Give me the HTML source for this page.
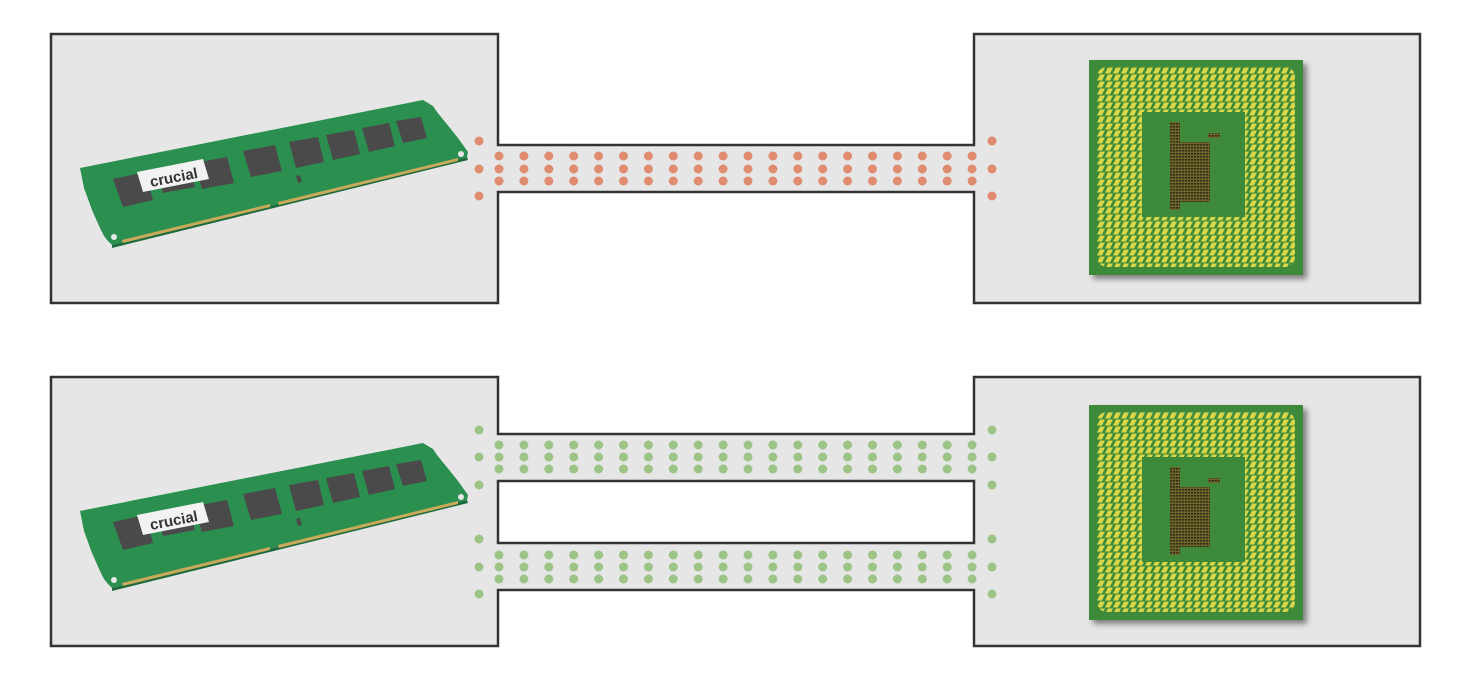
<!DOCTYPE html>
<html><head><meta charset="utf-8"><style>html,body{margin:0;padding:0;background:#fff}svg{display:block}</style></head>
<body>
<svg width="1471" height="681" viewBox="0 0 1471 681" xmlns="http://www.w3.org/2000/svg">
<defs>
<pattern id="pads" x="1097" y="67" width="8" height="7" patternUnits="userSpaceOnUse">
<rect width="8" height="7" fill="#3d8b3a"/>
<polygon points="0,6.5 3,0.5 8,0.5 5,6.5" fill="#d9d64a"/>
</pattern>
<pattern id="core" x="0" y="0" width="3" height="3" patternUnits="userSpaceOnUse">
<rect width="3" height="3" fill="#6a6a2a"/><rect width="2.2" height="1.6" fill="#3a2a1a"/>
</pattern>
<filter id="sh" x="-10%" y="-10%" width="130%" height="130%"><feGaussianBlur stdDeviation="3"/></filter>
<g id="ram">
<polygon points="80,168 423,100 433,106 437,112 450,128 458,138 468,152 467,157 112,245 108,241 104,236 100,228 96,219 92,210 88,199 84,188" fill="#2b8f50"/>
<polygon points="467,157 112,245 112,248 468,160" fill="#1d6a3c"/>
<polygon points="122,240 270,204 270,207 123,243" fill="#c9a95a"/>
<polygon points="278,202 458,158 458,161 279,205" fill="#c9a95a"/>
<circle cx="114" cy="237" r="3" fill="#e6e6e6"/><circle cx="461" cy="154" r="3" fill="#e6e6e6"/>
<g fill="#4a4a4a">
<polygon points="113,179 145,172 153,200 123,207"/>
<polygon points="157,171 189,165 195,187 163,193"/>
<polygon points="194,163 227,157 234,183 202,189"/>
<polygon points="243,151 275,145 282,171 251,177"/>
<polygon points="289,142 318,137 324,162 296,168"/>
<polygon points="326,135 354,130 360,154 333,160"/>
<polygon points="362,128 389,123 395,146 369,152"/>
<polygon points="396,121 421,117 427,138 403,143"/>
<polygon points="296,176 300,175 302,182 298,183"/>
</g>
<polygon points="137,172 203,159 209,179 143,192" fill="#f2f2f2"/>
<text x="0" y="0" transform="translate(151,187) rotate(-11)" font-family="Liberation Sans, sans-serif" font-weight="bold" font-size="15" fill="#333">crucial</text>
</g>
<g id="cpu">
<rect x="1093" y="64" width="214" height="215" fill="#555" filter="url(#sh)" opacity="0.7"/>
<rect x="1089" y="60" width="214" height="215" fill="#3d8b3a"/>
<rect x="1097" y="67" width="198" height="200" rx="10" fill="url(#pads)"/>
<rect x="1142" y="112" width="103" height="105" fill="#3d8b3a"/>
<rect x="1170" y="122" width="10" height="88" fill="url(#core)"/>
<rect x="1180" y="142" width="30" height="60" fill="url(#core)"/>
<rect x="1208" y="133" width="12" height="5" fill="url(#core)"/>
</g>
</defs>
<path d="M51,34 H498 V145 H974 V34 H1420 V303 H974 V192 H498 V303 H51 Z" fill="#e6e6e6" stroke="#333" stroke-width="2.5"/>
<path d="M51,377 H498 V434 H974 V377 H1420 V646 H974 V590 H498 V646 H51 Z M498,481 H974 V543 H498 Z" fill="#e6e6e6" fill-rule="evenodd" stroke="#333" stroke-width="2.5"/>
<use href="#ram"/>
<use href="#ram" transform="translate(0,343)"/>
<use href="#cpu"/>
<use href="#cpu" transform="translate(0,345)"/>
<g fill="#e08c70">
<circle cx="479" cy="141" r="4.5"/><circle cx="479" cy="169" r="4.5"/><circle cx="479" cy="196" r="4.5"/>
<circle cx="992" cy="141" r="4.5"/><circle cx="992" cy="169" r="4.5"/><circle cx="992" cy="196" r="4.5"/>
</g>
<g fill="#e08c70">
<g id="col"><circle cx="499" cy="156" r="4.5"/><circle cx="499" cy="169" r="4.5"/><circle cx="499" cy="181" r="4.5"/></g>
<use href="#col" x="24.9"/><use href="#col" x="49.8"/><use href="#col" x="74.7"/><use href="#col" x="99.6"/>
<use href="#col" x="124.5"/><use href="#col" x="149.4"/><use href="#col" x="174.3"/><use href="#col" x="199.2"/>
<use href="#col" x="224.1"/><use href="#col" x="249"/><use href="#col" x="273.9"/><use href="#col" x="298.8"/>
<use href="#col" x="323.7"/><use href="#col" x="348.6"/><use href="#col" x="373.5"/><use href="#col" x="398.4"/>
<use href="#col" x="423.3"/><use href="#col" x="448.2"/><use href="#col" x="473.1"/>
</g>
<g fill="#9bc486">
<circle cx="479" cy="430" r="4.5"/><circle cx="479" cy="457" r="4.5"/><circle cx="479" cy="485" r="4.5"/>
<circle cx="992" cy="430" r="4.5"/><circle cx="992" cy="457" r="4.5"/><circle cx="992" cy="485" r="4.5"/>
<circle cx="479" cy="539" r="4.5"/><circle cx="479" cy="567" r="4.5"/><circle cx="479" cy="594" r="4.5"/>
<circle cx="992" cy="539" r="4.5"/><circle cx="992" cy="567" r="4.5"/><circle cx="992" cy="594" r="4.5"/>
</g>
<g id="gch">
<g fill="#9bc486">
<g id="gcol"><circle cx="499" cy="445" r="4.5"/><circle cx="499" cy="457" r="4.5"/><circle cx="499" cy="469" r="4.5"/></g>
<use href="#gcol" x="24.9"/><use href="#gcol" x="49.8"/><use href="#gcol" x="74.7"/><use href="#gcol" x="99.6"/>
<use href="#gcol" x="124.5"/><use href="#gcol" x="149.4"/><use href="#gcol" x="174.3"/><use href="#gcol" x="199.2"/>
<use href="#gcol" x="224.1"/><use href="#gcol" x="249"/><use href="#gcol" x="273.9"/><use href="#gcol" x="298.8"/>
<use href="#gcol" x="323.7"/><use href="#gcol" x="348.6"/><use href="#gcol" x="373.5"/><use href="#gcol" x="398.4"/>
<use href="#gcol" x="423.3"/><use href="#gcol" x="448.2"/><use href="#gcol" x="473.1"/>
</g>
</g>
<use href="#gch" y="110"/>
</svg>
</body></html>
